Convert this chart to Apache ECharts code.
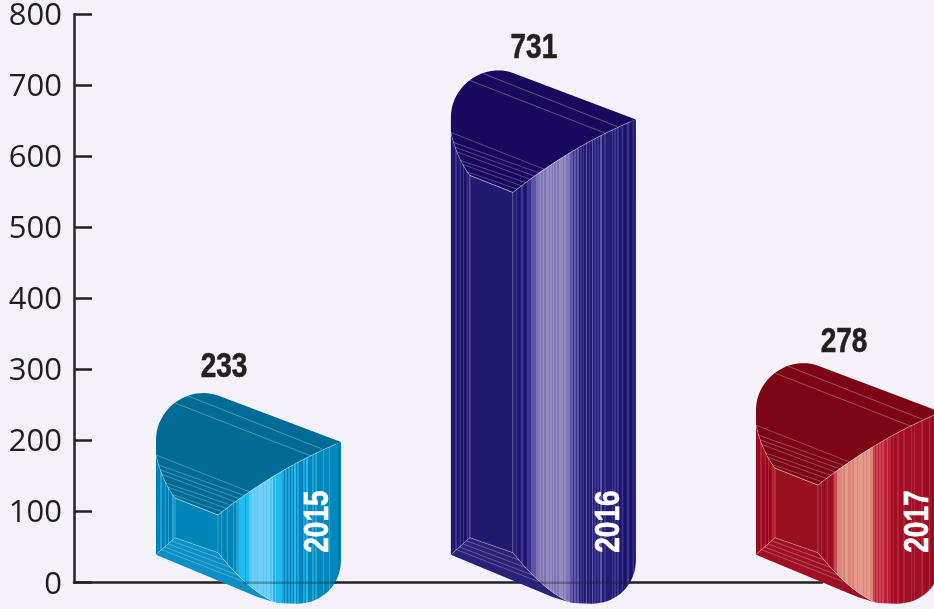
<!DOCTYPE html>
<html><head><meta charset="utf-8">
<style>html,body{margin:0;padding:0;background:#f4f2f8}#c{width:934px;height:609px}</style>
<script src="https://cdn.jsdelivr.net/npm/echarts@6/dist/echarts.min.js"></script>
</head><body><div id="c"></div>
<script>
// --- data ---
const categories = ['2015', '2016', '2017'];
const values = [233, 731, 278];            // printed value of each bar
const apexValues = [267, 721, 309];        // axis level reached by each drawn silhouette's apex
const slots = [2015, 2015.983, 2017];      // horizontal place of each bar on the hidden x scale
const yTicks = [0, 800, 100];

// --- styling ---
const palettes = [
  {top:'#006c96', inner:'#0085b8', floor:'#0b8fc4', c:['#0079ab','#0088bd','#22a3d8','#1dbbf0','#55c8f6','#6fcff7']},
  {top:'#18085e', inner:'#221a70', floor:'#2a2178', c:['#1c1166','#241c73','#3b3590','#5c56a8','#8175b7','#958cc4']},
  {top:'#7d0414', inner:'#980f1f', floor:'#a01025', c:['#8c0a1c','#a01025','#bb2038','#c94655','#db8578','#e39a88']}
];
const stripes = [
  '01210121012'+'1223'+'3332334'+'454545554545545'+'343333'+'21212'+'1213121112131112'+'1211112111211111'+'00',
  '01210121012'+'2233'+'3444'+'5454554545454555454'+'443'+'3232312'+'12131213'+'12121311211'+'1121'+'2120121'+'01210120',
  '0121012101'+'233'+'44'+'4545544545545554545544'+'32323232'+'2322'+'12112111211'+'1121211'+'1121'+'10121010100'
];
const leftStripes = '0102012020121';
const lineCol = 'rgba(255,255,255,0.36)';
const labelDx = [68, 83, 88], labelDy = [-26, -22, -21], yearDx = [162, 158, 162];
const boldFont = 'bold 35px "Liberation Sans",Arimo,sans-serif';
const condense = 0.8;

function qb(p0,p1,p2,n){const o=[];for(let i=1;i<=n;i++){const t=i/n,u=1-t;o.push([u*u*p0[0]+2*u*t*p1[0]+t*t*p2[0],u*u*p0[1]+2*u*t*p1[1]+t*t*p2[1]]);}return o;}
function cb(p0,p1,p2,p3,n){const o=[];for(let i=1;i<=n;i++){const t=i/n,u=1-t;o.push([0,1].map(k=>u*u*u*p0[k]+3*u*u*t*p1[k]+3*u*t*t*p2[k]+t*t*t*p3[k]));}return o;}
function lerp(a,b,t){return [a[0]+(b[0]-a[0])*t,a[1]+(b[1]-a[1])*t];}
function hardStops(pattern,cols){const n=pattern.length,s=[];for(let i=0;i<n;i++){const c=cols[+pattern[i]];s.push({offset:i/n,color:c},{offset:(i+1)/n,color:c});}return s;}

function renderItem(params, api){
  const i = params.dataIndex;
  const p = api.coord([api.value(0), api.value(1)]);
  const zeroY = api.coord([api.value(0), 0])[1];
  const x0 = p[0], T = p[1], B = zeroY + 21;
  const pal = palettes[i];
  const tp = a => [x0+a[0], T+a[1]];   // relative to the apex
  const bt = a => [x0+a[0], B+a[1]];   // relative to the foot
  const els = [];
  const poly = (pts,fill,extra) => els.push({type:'polygon',shape:{points:pts},style:Object.assign({fill:fill,stroke:null},extra||{})});
  const line = (pts,w) => els.push({type:'polyline',shape:{points:pts},style:{fill:null,stroke:lineCol,lineWidth:w||0.8}});

  const frontEdge = qb([185,49],[120,76],[62,122],24).map(tp);    // right corner -> front corner
  const leftCurve = [tp([0,62])].concat(qb([0,62],[6,88],[19,105],10).map(tp));

  // top face
  const topPts = [tp([0,62]),tp([0,47])]
    .concat(cb([0,47],[0,21],[22,0],[48,0],20).map(tp))
    .concat(qb([48,0],[56,0],[66,4],5).map(tp))
    .concat([tp([185,49])]).concat(frontEdge).concat([tp([19,105])]).concat(leftCurve.slice().reverse());
  poly(topPts, pal.top);

  // left facet
  const leftGrad = new echarts.graphic.LinearGradient(x0,0,x0+19,0,hardStops(leftStripes,pal.c),true);
  poly(leftCurve.concat([bt([19,-66]),bt([0,-49])]), leftGrad);

  // inner front panel
  poly([tp([19,105]),tp([62,122]),bt([62,-51]),bt([19,-66])], pal.inner);

  // lower facet
  const lowCurve = [bt([62,-51])].concat(cb([62,-51],[76,-34],[95,-12],[120,-1],14).map(bt));
  poly([bt([0,-49]),bt([19,-66])].concat(lowCurve).concat([bt([101,-7])]), pal.floor);

  // curved striped face
  const faceGrad = new echarts.graphic.LinearGradient(x0+62,0,x0+185,0,hardStops(stripes[i],pal.c),true);
  const facePts = [tp([185,49]),bt([185,-44])]
    .concat(cb([185,-44],[185,-18],[165,0],[141,0],18).map(bt))
    .concat(qb([141,0],[130,0],[120,-1],3).map(bt))
    .concat(lowCurve.slice().reverse())
    .concat([tp([62,122])]).concat(frontEdge.slice().reverse());
  poly(facePts, faceGrad);

  // fine facet lines
  line([tp([19,10]),tp([155,63])]);
  line([tp([32,3]),tp([166,56])]);
  [0,.16,.3,.44,.58,.72,.86,1].forEach(s=>{
    const a = leftCurve[Math.round(s*10)], b = lerp(tp([94,99]),tp([62,122]),s);
    line([a,b],0.7);
  });
  [.22,.44,.66,.85].forEach(s=>{
    line([lerp(bt([19,-66]),bt([3,-52]),s),lerp(bt([62,-51]),bt([92,-17]),s)],0.7);
  });
  line([tp([19,105]),bt([19,-66])]);
  line([tp([62,122]),bt([62,-51])]);
  line([tp([19,105]),tp([62,122])]);
  line([bt([19,-66]),bt([62,-51])]);
  line([bt([0,-49]),bt([19,-66])]);
  line(leftCurve);
  line(frontEdge,1);
  line(lowCurve,0.9);

  // x-axis seen through the curved face
  const axisEnd = Math.min(x0+181, params.coordSys.x+params.coordSys.width);
  if (axisEnd > x0+87) els.push({type:'line',shape:{x1:x0+87,y1:zeroY,x2:axisEnd,y2:zeroY},style:{stroke:'rgba(30,28,40,0.32)',lineWidth:2.5}});

  // vertical category label
  els.push({type:'text',x:x0+yearDx[i],y:zeroY-30,rotation:Math.PI/2,scaleX:condense,style:{
    text:categories[i],fill:'#ffffff',stroke:'#ffffff',lineWidth:0.6,font:boldFont,align:'left',verticalAlign:'middle'}});
  // value label
  els.push({type:'text',x:x0+labelDx[i],y:T+labelDy[i],scaleX:condense,style:{
    text:String(api.value(2)),fill:'#231f20',stroke:'#231f20',lineWidth:0.6,font:boldFont,align:'center',verticalAlign:'middle'}});
  return {type:'group',children:els};
}

const chart = echarts.init(document.getElementById('c'), null, {renderer:'canvas'});
chart.setOption({
  animation:false,
  backgroundColor:'#f4f2f8',
  grid:{left:74,right:112,top:14.3,bottom:26.3,containLabel:false},
  xAxis:{type:'value',min:2014.7267,max:2017.22,
    axisLabel:{show:false},axisTick:{show:false},splitLine:{show:false},
    axisLine:{show:true,lineStyle:{color:'#232125',width:2.5}}},
  yAxis:{type:'value',min:yTicks[0],max:yTicks[1],interval:yTicks[2],
    splitLine:{show:false},
    axisLine:{show:true,lineStyle:{color:'#232125',width:2.5}},
    axisTick:{show:true,inside:true,length:18,lineStyle:{color:'#232125',width:2.5}},
    axisLabel:{color:'#1f1d22',fontFamily:'"Open Sans","Noto Sans",sans-serif',fontSize:31,margin:12,verticalAlign:'top',lineHeight:4}},
  series:[{type:'custom',renderItem:renderItem,clip:false,silent:true,z:5,
    encode:{x:0,y:1},
    data:categories.map((c,i)=>[slots[i],apexValues[i],values[i]])}]
});
</script></body></html>
